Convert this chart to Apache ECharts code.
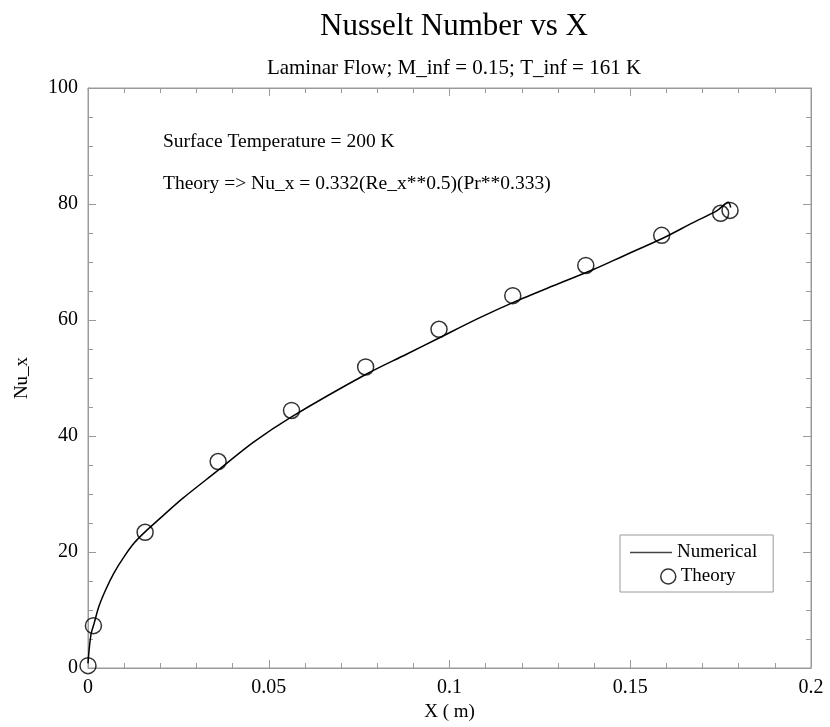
<!DOCTYPE html>
<html>
<head>
<meta charset="utf-8">
<script src="https://cdn.jsdelivr.net/npm/echarts@6/dist/echarts.min.js"></script>
<style>html,body{margin:0;padding:0;background:#fff;}#c{width:830px;height:727px;}</style>
</head>
<body>
<div id="c"></div>
<script>
// Numerical solution (line)
const numX = [0, 0.0004, 0.0009, 0.0017, 0.003, 0.0049, 0.0072, 0.01, 0.0127, 0.0155, 0.021, 0.0261, 0.0356, 0.0457, 0.0563, 0.0768, 0.0881, 0.0971, 0.1084, 0.1175, 0.1287, 0.1398, 0.149, 0.1587, 0.1674, 0.1739, 0.1771, 0.1778];
const numY = [0.8, 3.7, 6.0, 7.7, 10.6, 13.5, 16.4, 19.2, 21.5, 23.3, 26.4, 29.2, 33.9, 38.9, 43.3, 50.6, 54.1, 56.9, 60.4, 63.0, 65.9, 68.7, 71.3, 74.0, 76.8, 78.8, 80.3, 79.4];
// Theory (circles)
const thX = [0, 0.0015, 0.0158, 0.036, 0.0563, 0.0768, 0.0971, 0.1175, 0.1377, 0.1587, 0.175, 0.1776];
const thY = [0.4, 7.3, 23.4, 35.6, 44.4, 51.9, 58.4, 64.2, 69.4, 74.6, 78.4, 78.9];
const xTicks = [0, 0.05, 0.1, 0.15, 0.2];
const yTicks = [0, 20, 40, 60, 80, 100];

const FONT = '"Liberation Serif", "DejaVu Serif", serif';
const GRAY = '#9a9a9a';
const chart = echarts.init(document.getElementById('c'));

const axisCommon = {
  axisLine: { show: true, onZero: false, lineStyle: { color: GRAY, width: 1 } },
  axisTick: { show: true, inside: true, length: 8, lineStyle: { color: GRAY } },
  minorTick: { show: true, length: 5, lineStyle: { color: GRAY } },
  splitLine: { show: false },
  minorSplitLine: { show: false }
};

chart.setOption({
  animation: false,
  backgroundColor: '#fff',
  title: [
    { text: 'Nusselt Number vs X', left: 449, top: 6, textAlign: 'center',
      textStyle: { fontFamily: FONT, fontSize: 31, fontWeight: 'normal', color: '#000' } },
    { text: 'Laminar Flow; M_inf = 0.15; T_inf = 161 K', left: 449, top: 53, textAlign: 'center',
      textStyle: { fontFamily: FONT, fontSize: 21, fontWeight: 'normal', color: '#000' } }
  ],
  grid: { left: 88, right: 19, top: 88, bottom: 59, show: true, borderColor: GRAY, borderWidth: 1 },
  xAxis: [
    Object.assign({}, axisCommon, {
      type: 'value', min: 0, max: 0.2, interval: 0.05, position: 'bottom',
      minorTick: Object.assign({}, axisCommon.minorTick, { splitNumber: 5 }),
      axisLabel: { fontFamily: FONT, fontSize: 20, color: '#000', margin: 10,
        formatter: v => xTicks.includes(+v.toFixed(3)) ? String(+v.toFixed(3)) : '' },
      name: 'X ( m)', nameLocation: 'middle', nameGap: 35,
      nameTextStyle: { fontFamily: FONT, fontSize: 19, color: '#000' }
    }),
    Object.assign({}, axisCommon, {
      type: 'value', min: 0, max: 0.2, interval: 0.05, position: 'top',
      minorTick: Object.assign({}, axisCommon.minorTick, { splitNumber: 5 }),
      axisLabel: { show: false }
    })
  ],
  yAxis: [
    Object.assign({}, axisCommon, {
      type: 'value', min: 0, max: 100, interval: 20, position: 'left',
      minorTick: Object.assign({}, axisCommon.minorTick, { splitNumber: 4 }),
      axisLabel: { fontFamily: FONT, fontSize: 20, color: '#000', margin: 10,
        formatter: v => yTicks.includes(v) ? String(v) : '' },
      name: 'Nu_x', nameLocation: 'middle', nameGap: 56, nameRotate: 90,
      nameTextStyle: { fontFamily: FONT, fontSize: 19, color: '#000' }
    }),
    Object.assign({}, axisCommon, {
      type: 'value', min: 0, max: 100, interval: 20, position: 'right',
      minorTick: Object.assign({}, axisCommon.minorTick, { splitNumber: 4 }),
      axisLabel: { show: false }
    })
  ],
  legend: [
    {
      orient: 'vertical', left: 620, top: 535,
      padding: [8, 16, 30, 10], itemWidth: 42, itemHeight: 1.5,
      borderColor: GRAY, borderWidth: 1, backgroundColor: '#fff',
      textStyle: { fontFamily: FONT, fontSize: 19, color: '#000' },
      data: [{ name: 'Numerical', icon: 'rect', itemStyle: { color: '#444', borderWidth: 0 } }]
    },
    {
      orient: 'vertical', left: 660, top: 567,
      padding: 0, itemWidth: 15, itemHeight: 15,
      textStyle: { fontFamily: FONT, fontSize: 19, color: '#000' },
      data: [{ name: 'Theory', icon: 'circle',
        itemStyle: { color: 'rgba(0,0,0,0)', borderColor: '#000', borderWidth: 1.5 } }]
    }
  ],
  graphic: [
    { type: 'text', left: 163, top: 132, style: { text: 'Surface Temperature = 200 K', font: '19.5px ' + FONT, fill: '#000' } },
    { type: 'text', left: 163, top: 174, style: { text: 'Theory => Nu_x = 0.332(Re_x**0.5)(Pr**0.333)', font: '19.5px ' + FONT, fill: '#000' } }
  ],
  series: [
    {
      name: 'Numerical', type: 'line', xAxisIndex: 0, yAxisIndex: 0,
      data: numX.map((x, i) => [x, numY[i]]),
      showSymbol: false, symbol: 'none', smooth: 0.3,
      lineStyle: { color: '#000', width: 1.5 }, itemStyle: { color: '#333' }, z: 3
    },
    {
      name: 'Theory', type: 'scatter', xAxisIndex: 0, yAxisIndex: 0,
      data: thX.map((x, i) => [x, thY[i]]),
      symbol: 'circle', symbolSize: 16,
      itemStyle: { color: 'rgba(0,0,0,0)', borderColor: '#000', borderWidth: 1.5 }, z: 4
    }
  ]
});
</script>
</body>
</html>
